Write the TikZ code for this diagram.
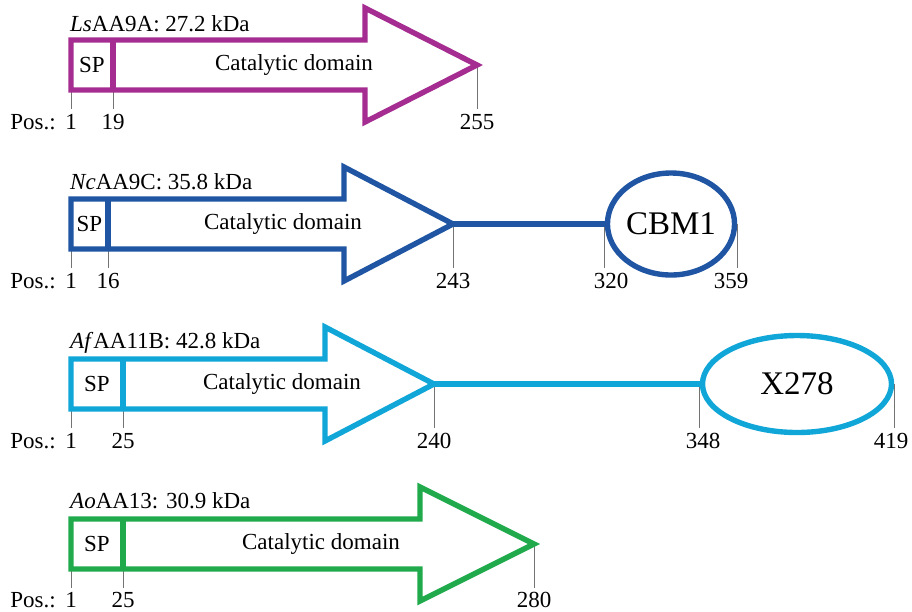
\documentclass[tikz,border=0pt]{standalone}
\usepackage{fontspec}
\setmainfont{Liberation Serif}
\usetikzlibrary{shapes.geometric}
\definecolor{cMag}{HTML}{A52C90}
\definecolor{cDark}{HTML}{1F55A3}
\definecolor{cLight}{HTML}{10A6D8}
\definecolor{cGreen}{HTML}{20AA4C}
\begin{document}
\begin{tikzpicture}[x=1pt,y=-1pt,
  dom/.style={line width=5.4pt, miter limit=10},
  tk/.style={draw=black!55, line width=1pt},
  num/.style={font=\fontsize{23}{27}\selectfont, inner sep=0pt, anchor=base},
  ttl/.style={font=\fontsize{23}{27}\selectfont, inner sep=0pt, anchor=base west},
  inl/.style={font=\fontsize{23}{27}\selectfont, inner sep=0pt},
  dome/.style={ellipse, line width=5.4pt, inner sep=0pt, font=\fontsize{33}{38}\selectfont}]
\useasboundingbox (0,0) rectangle (912,611);

% ---------- Row 1: LsAA9A ----------
\node[ttl] (ti1) at (70,31) {\textit{Ls}AA9A: 27.2 kDa};
\draw[tk] (71,90) -- (71,109);
\draw[tk] (113,90) -- (113,109);
\draw[tk] (477,65) -- (477,109);
\draw[dom,cMag] (71,40) -- (365,40) -- (365,8) -- (477,65) coordinate (t1) -- (365,122) -- (365,90) -- (71,90) -- cycle;
\draw[dom,cMag] (113,40) -- (113,90);
\node[inl] (sp1) at (92,65) {SP};
\node[inl] (cd1) at (294,65) {Catalytic domain};
\node[num] (pos1) at (33,129) {Pos.:};
\node[num] (n1a) at (71,129) {1};
\node[num] (n1b) at (113,129) {19};
\node[num] (n1c) at (477,129) {255};

% ---------- Row 2: NcAA9C ----------
\node[ttl] (ti2) at (70,189) {\textit{Nc}AA9C: 35.8 kDa};
\node[dome, draw=cDark, minimum width=120pt, minimum height=102pt] (cbm) at (671,224) {CBM1};
\draw[tk] (71,249) -- (71,268);
\draw[tk] (108,249) -- (108,268);
\draw[tk] (453,224) -- (453,268);
\draw[tk] (cbm.west) -- ++(0,44);
\draw[tk] (cbm.east) -- ++(0,44);
\draw[dom,cDark] (71,199) -- (344,199) -- (344,167) -- (453,224) coordinate (t2) -- (344,281) -- (344,249) -- (71,249) -- cycle;
\draw[dom,cDark] (108,199) -- (108,249);
\draw[dom,cDark] (t2) -- (cbm.west);
\node[inl] (sp2) at (89.5,224) {SP};
\node[inl] (cd2) at (283,224) {Catalytic domain};
\node[num] (pos2) at (33,288) {Pos.:};
\node[num] (n2a) at (71,288) {1};
\node[num] (n2b) at (108,288) {16};
\node[num] (n2c) at (453,288) {243};
\node[num] (n2d) at (611,288) {320};
\node[num] (n2e) at (731,288) {359};

% ---------- Row 3: AfAA11B ----------
\node[ttl] (ti3) at (70,348) {\textit{Af}AA11B: 42.8 kDa};
\node[dome, draw=cLight, minimum width=189pt, minimum height=97pt] (x278) at (797,384) {X278};
\draw[tk] (71,409) -- (71,428);
\draw[tk] (123,409) -- (123,428);
\draw[tk] (434,384) -- (434,428);
\draw[tk] (x278.west) -- ++(0,44);
\draw[tk] (x278.east) -- ++(0,44);
\draw[dom,cLight] (71,359) -- (325,359) -- (325,327) -- (434,384) coordinate (t3) -- (325,441) -- (325,409) -- (71,409) -- cycle;
\draw[dom,cLight] (123,359) -- (123,409);
\draw[dom,cLight] (t3) -- (x278.west);
\node[inl] (sp3) at (97,384) {SP};
\node[inl] (cd3) at (282,384) {Catalytic domain};
\node[num] (pos3) at (33,448) {Pos.:};
\node[num] (n3a) at (71,448) {1};
\node[num] (n3b) at (123,448) {25};
\node[num] (n3c) at (434,448) {240};
\node[num] (n3d) at (703,448) {348};
\node[num] (n3e) at (891,448) {419};

% ---------- Row 4: AoAA13 ----------
\node[ttl] (ti4) at (70,508) {\textit{Ao}AA13: 30.9 kDa};
\draw[tk] (71,569) -- (71,588);
\draw[tk] (123,569) -- (123,588);
\draw[tk] (534,544) -- (534,588);
\draw[dom,cGreen] (71,519) -- (420,519) -- (420,487) -- (534,544) coordinate (t4) -- (420,601) -- (420,569) -- (71,569) -- cycle;
\draw[dom,cGreen] (123,519) -- (123,569);
\node[inl] (sp4) at (97,544) {SP};
\node[inl] (cd4) at (321,544) {Catalytic domain};
\node[num] (pos4) at (33,607) {Pos.:};
\node[num] (n4a) at (71,607) {1};
\node[num] (n4b) at (123,607) {25};
\node[num] (n4c) at (534,607) {280};
\end{tikzpicture}
\end{document}
